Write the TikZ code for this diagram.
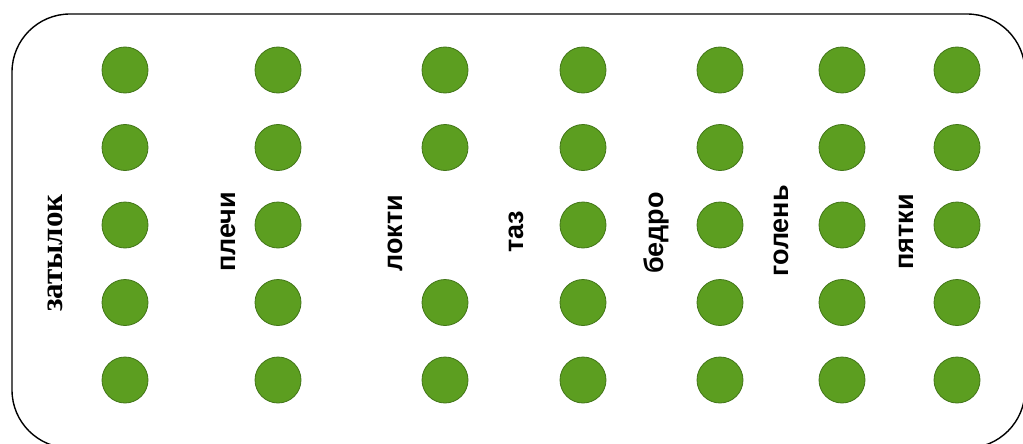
\documentclass[tikz,border=0pt]{standalone}
\usepackage{fontspec}
\setmainfont{Liberation Sans}
\newfontfamily\zatfont{Liberation Serif}[UprightFont=*-Bold]
\definecolor{dotfill}{RGB}{92,158,32}
\definecolor{dotline}{RGB}{66,118,24}
\begin{document}
\begin{tikzpicture}[x=1pt,y=-1pt,
  dot/.style={circle,fill=dotfill,draw=dotline,line width=0.8pt,minimum size=46pt,inner sep=0pt},
  lbl/.style={rotate=90,anchor=base,font=\bfseries\fontsize{27}{30}\selectfont,inner sep=0pt},
  lblserif/.style={rotate=90,anchor=base,font=\zatfont\fontsize{31}{34}\selectfont,inner sep=0pt}]
\useasboundingbox (0,0) rectangle (1023,444);
\begin{scope}
\clip (0,0) rectangle (1023,444);
\draw[line width=1.4pt,rounded corners=58pt] (12,14) rectangle (1025,448);
\end{scope}
% columns
\foreach \c/\x in {a/125,b/278,d/583,e/720,f/842,g/957}{
  \foreach \r/\y in {1/70,2/147.5,3/225,4/302.5,5/380}{
    \node[dot] (\c\r) at (\x,\y) {};
  }
}
\foreach \r/\y in {1/70,2/147.5,4/302.5,5/380}{
  \node[dot] (c\r) at (445,\y) {};
}
% labels
\node[lblserif] (zat) at (62,253) {затылок};
\node[lbl] (ple) at (235,232) {плечи};
\node[lbl] (lok) at (402,233) {локти};
\node[lbl] (taz) at (523,232) {таз};
\node[lbl] (bed) at (663,233) {бедро};
\node[lbl] (gol) at (788,231) {голень};
\node[lbl] (pya) at (913,232) {пятки};
\end{tikzpicture}
\end{document}
